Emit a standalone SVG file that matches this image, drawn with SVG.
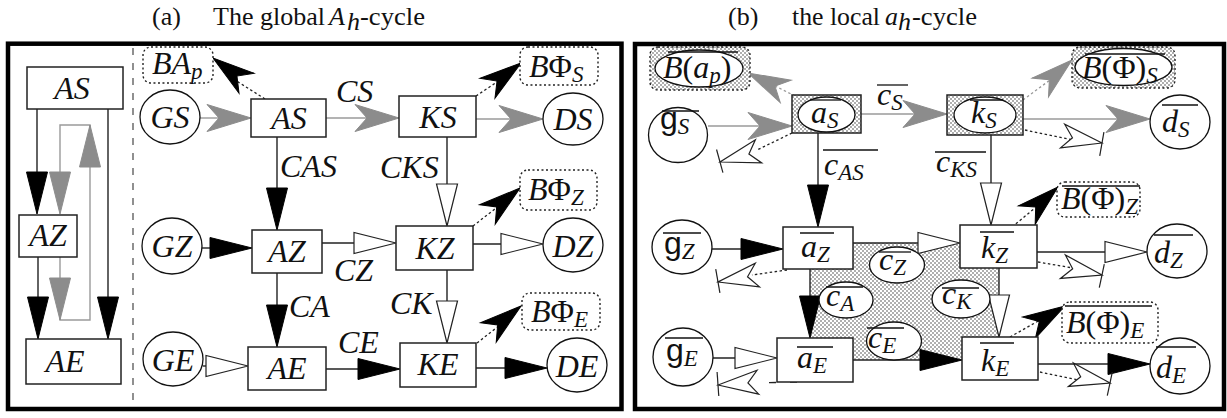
<svg xmlns="http://www.w3.org/2000/svg" width="1227" height="418" viewBox="0 0 1227 418">
<style>
.frame{fill:none;stroke:#000;stroke-width:4.5}
.box{fill:#fff;stroke:#222;stroke-width:1.5}
.circ{fill:#fff;stroke:#111;stroke-width:1.3}
.dotbox{fill:#fff;stroke:#222;stroke-width:1.4;stroke-dasharray:2 2.5}
.shadebox{fill:url(#dots);stroke:#222;stroke-width:1.5}
.shadedot{fill:url(#dots);stroke:#222;stroke-width:1.4;stroke-dasharray:2 2.5}
.ln{fill:none;stroke:#222;stroke-width:1.4}
.gln{fill:none;stroke:#9a9a9a;stroke-width:1.4}
.dln{fill:none;stroke:#222;stroke-width:1.3;stroke-dasharray:2.5 2.5}
.gdln{fill:none;stroke:#999;stroke-width:1.3;stroke-dasharray:2.5 2.5}
.dash{fill:none;stroke:#222;stroke-width:1.3;stroke-dasharray:7 14}
.ahB{fill:#000;stroke:#000;stroke-width:1}
.ahW{fill:#fff;stroke:#222;stroke-width:1.2}
.ahG{fill:#8c8c8c;stroke:#8c8c8c;stroke-width:1}
.t{font-family:"Liberation Serif",serif;font-style:italic;font-size:32px;fill:#111}
.s{font-size:23px}
.up{font-style:normal}
.g{font-family:"Liberation Sans",sans-serif;font-style:normal;font-size:32px}
.title{font-family:"Liberation Serif",serif;font-size:26px;fill:#111}
.ti{font-style:italic}
.ovl{stroke:#111;stroke-width:1.3}
.sep{fill:none;stroke:#555;stroke-width:1.3;stroke-dasharray:7 8}
</style>
<defs>
<pattern id="dots" width="4" height="4" patternUnits="userSpaceOnUse"><rect width="4" height="4" fill="#fff"/><circle cx="1" cy="1" r="0.7" fill="#222"/><circle cx="3" cy="3" r="0.7" fill="#222"/></pattern>
<path id="tri" d="M0,0 L-42,-10.5 L-42,10.5 Z"/>
<path id="barbG" d="M0,0 L-44,-13.5 L-32,0 L-44,13.5 Z"/>
<path id="barb" d="M0,0 L-42,-12.5 L-30,0 L-42,12.5 Z"/>
<g id="wbarb"><path d="M0,0 L-40,-12 L-30,0 L-40,12 Z"/><path d="M0,-11 L0,13" fill="none"/></g>
</defs>
<rect width="1227" height="418" fill="#fff"/>

<g id="titles">
<text class="title" x="152" y="25">(a)</text>
<text class="title" x="213" y="25" textLength="112" lengthAdjust="spacingAndGlyphs">The global</text>
<text class="title ti" x="329" y="25">A</text>
<text class="title ti" x="347" y="30" font-size="18">h</text>
<text class="title" x="360" y="25" textLength="65" lengthAdjust="spacingAndGlyphs">-cycle</text>
<text class="title" x="728" y="25">(b)</text>
<text class="title" x="792" y="25" textLength="88" lengthAdjust="spacingAndGlyphs">the local</text>
<text class="title ti" x="885" y="25">a</text>
<text class="title ti" x="898" y="30" font-size="18">h</text>
<text class="title" x="912" y="25" textLength="65" lengthAdjust="spacingAndGlyphs">-cycle</text>
</g>

<g id="frames">
<rect class="frame" x="8" y="43.7" width="613.5" height="365.3"/>
<rect class="frame" x="635" y="44" width="589" height="365"/>
<line class="sep" x1="133" y1="48" x2="133" y2="404"/>
</g>

<g id="shade-region">
<rect x="810" y="243" width="189" height="117" fill="url(#dots)"/>
</g>

<g id="connectors">
<path class="ln" d="M37,109 V190"/>
<path class="ln" d="M108,109 V320"/>
<path class="gln" d="M60,257 V320 H90 V125 H60 V200"/>
<path class="ln" d="M38,257 V320"/>
<use href="#tri" class="ahB" transform="translate(37,214) rotate(90)"/>
<use href="#tri" class="ahG" transform="translate(60,214) rotate(90)"/>
<use href="#tri" class="ahG" transform="translate(90,125) rotate(-90)"/>
<use href="#tri" class="ahG" transform="translate(60,320) rotate(90)"/>
<use href="#tri" class="ahB" transform="translate(38,339) rotate(90)"/>
<use href="#tri" class="ahB" transform="translate(108,339) rotate(90)"/>
<path class="gln" d="M200,118 H230"/>
<path class="gln" d="M326,118 H380"/>
<path class="gln" d="M476,119 H520"/>
<use href="#barbG" class="ahG" transform="translate(251,118)"/>
<use href="#barbG" class="ahG" transform="translate(399,118)"/>
<use href="#barbG" class="ahG" transform="translate(543,119)"/>
<path class="ln" d="M277,137 V210"/>
<use href="#tri" class="ahB" transform="translate(277,230) rotate(90)"/>
<path class="ln" d="M447,137 V200"/>
<use href="#tri" class="ahW" transform="translate(447,226) rotate(90)"/>
<path class="ln" d="M202,248 H230"/>
<use href="#tri" class="ahB" transform="translate(252,248)"/>
<path class="ln" d="M322,243 H370"/>
<use href="#tri" class="ahW" transform="translate(396,243)"/>
<path class="ln" d="M473,244 H520"/>
<use href="#tri" class="ahW" transform="translate(543,244)"/>
<path class="ln" d="M277,273 V320"/>
<use href="#tri" class="ahB" transform="translate(277,347) rotate(90)"/>
<path class="ln" d="M447,270 V320"/>
<use href="#tri" class="ahW" transform="translate(447,343) rotate(90)"/>
<path class="ln" d="M203,366 H230"/>
<use href="#tri" class="ahW" transform="translate(248,366)"/>
<path class="ln" d="M326,369 H380"/>
<use href="#tri" class="ahB" transform="translate(400,369)"/>
<path class="ln" d="M476,368 H520"/>
<use href="#tri" class="ahB" transform="translate(547,368)"/>
<path class="dln" d="M265,99 L235,80"/>
<use href="#barb" class="ahB" transform="translate(213,58) rotate(-143)"/>
<path class="dln" d="M476,96 L500,80"/>
<use href="#barb" class="ahB" transform="translate(521,63) rotate(-37)"/>
<path class="dln" d="M473,226 L500,205"/>
<use href="#barb" class="ahB" transform="translate(520,188) rotate(-39)"/>
<path class="dln" d="M477,343 L500,325"/>
<use href="#barb" class="ahB" transform="translate(521,306) rotate(-39)"/>
<path class="gln" d="M708,126 H770"/>
<use href="#barbG" class="ahG" transform="translate(792,126)"/>
<path class="gln" d="M861,114 H925"/>
<use href="#barbG" class="ahG" transform="translate(947,114)"/>
<path class="gln" d="M1023,119 H1130"/>
<use href="#barbG" class="ahG" transform="translate(1150,119)"/>
<path class="gdln" d="M795,96 L775,86"/>
<use href="#barb" class="ahG" transform="translate(748,73) rotate(-154)"/>
<path class="gdln" d="M1023,100 L1050,80"/>
<use href="#barb" class="ahG" transform="translate(1072,60) rotate(-41)"/>
<path class="ln" d="M818,133 V200"/>
<use href="#tri" class="ahB" transform="translate(818,227) rotate(90)"/>
<path class="ln" d="M991,135 V200"/>
<use href="#tri" class="ahW" transform="translate(991,225) rotate(90)"/>
<path class="ln" d="M712,249 H760"/>
<use href="#tri" class="ahB" transform="translate(783,249)"/>
<path class="ln" d="M853,243 H930"/>
<use href="#tri" class="ahW" transform="translate(960,243)"/>
<path class="ln" d="M1037,252 H1120"/>
<use href="#tri" class="ahW" transform="translate(1147,252)"/>
<path class="ln" d="M810,269 V310"/>
<use href="#tri" class="ahB" transform="translate(810,338) rotate(90)"/>
<path class="ln" d="M999,268 V310"/>
<use href="#tri" class="ahW" transform="translate(999,337) rotate(90)"/>
<path class="ln" d="M713,358 H750"/>
<use href="#tri" class="ahW" transform="translate(777,358)"/>
<path class="ln" d="M853,360 H940"/>
<use href="#tri" class="ahB" transform="translate(962,360)"/>
<path class="ln" d="M1038,364 H1120"/>
<use href="#tri" class="ahB" transform="translate(1150,364)"/>
<path class="dln" d="M1012,227 L1035,208"/>
<use href="#barb" class="ahB" transform="translate(1058,187) rotate(-42)"/>
<path class="dln" d="M1010,337 L1040,320"/>
<use href="#barb" class="ahB" transform="translate(1065,306) rotate(-31)"/>
<path class="dln" d="M792,133 L757,150"/>
<use href="#wbarb" class="ahW" transform="translate(720,162) rotate(164.6)"/>
<path class="dln" d="M1025,130 L1073,140"/>
<use href="#wbarb" class="ahW" transform="translate(1102,143) rotate(10)"/>
<path class="dln" d="M787,270 L752,275"/>
<use href="#wbarb" class="ahW" transform="translate(718,282) rotate(170)"/>
<path class="dln" d="M1038,262 L1073,268"/>
<use href="#wbarb" class="ahW" transform="translate(1102,275) rotate(12)"/>
<path class="dash" d="M797,382 L755,383"/>
<use href="#wbarb" class="ahW" transform="translate(718,385) rotate(176)"/>
<path class="dln" d="M1040,372 L1078,380"/>
<use href="#wbarb" class="ahW" transform="translate(1110,383) rotate(12)"/>
</g>

<g id="sub-AS"><rect class="box" x="27" y="67" width="96" height="42"/><text class="t" x="72" y="99" text-anchor="middle">AS</text></g>
<g id="sub-AZ"><rect class="box" x="19" y="215" width="58" height="42"/><text class="t" x="48" y="246" text-anchor="middle">AZ</text></g>
<g id="sub-AE"><rect class="box" x="26" y="339" width="95" height="45"/><text class="t" x="65" y="372" text-anchor="middle">AE</text></g>

<g id="BAp"><rect class="dotbox" x="143" y="47" width="70" height="36" rx="8"/><text class="t" x="152" y="74">BA<tspan class="s" dy="5">p</tspan></text></g>
<g id="GS"><ellipse class="circ" cx="170" cy="117" rx="30" ry="27"/><text class="t" x="170" y="128" text-anchor="middle">GS</text></g>
<g id="AS"><rect class="box" x="251" y="99" width="75" height="38"/><text class="t" x="289" y="129" text-anchor="middle">AS</text></g>
<g id="KS"><rect class="box" x="399" y="96" width="77" height="41"/><text class="t" x="438" y="128" text-anchor="middle">KS</text></g>
<g id="DS"><ellipse class="circ" cx="573" cy="119" rx="30" ry="26"/><text class="t" x="573" y="130" text-anchor="middle">DS</text></g>
<g id="BPhiS"><rect class="dotbox" x="520" y="47" width="78" height="38" rx="8"/><text class="t" x="529" y="77">B<tspan class="up">Φ</tspan><tspan class="s" dy="5">S</tspan></text></g>
<g id="GZ"><ellipse class="circ" cx="172" cy="246" rx="30" ry="28"/><text class="t" x="172" y="257" text-anchor="middle">GZ</text></g>
<g id="AZ"><rect class="box" x="252" y="230" width="70" height="43"/><text class="t" x="287" y="262" text-anchor="middle">AZ</text></g>
<g id="KZ"><rect class="box" x="396" y="226" width="77" height="44"/><text class="t" x="435" y="259" text-anchor="middle">KZ</text></g>
<g id="DZ"><ellipse class="circ" cx="573" cy="245" rx="30" ry="27"/><text class="t" x="573" y="257" text-anchor="middle">DZ</text></g>
<g id="BPhiZ"><rect class="dotbox" x="520" y="170" width="77" height="40" rx="8"/><text class="t" x="528" y="200">B<tspan class="up">Φ</tspan><tspan class="s" dy="5">Z</tspan></text></g>
<g id="BPhiE"><rect class="dotbox" x="522" y="293" width="78" height="37" rx="8"/><text class="t" x="531" y="322">B<tspan class="up">Φ</tspan><tspan class="s" dy="5">E</tspan></text></g>
<g id="GE"><ellipse class="circ" cx="173" cy="359" rx="30" ry="27"/><text class="t" x="173" y="371" text-anchor="middle">GE</text></g>
<g id="AE"><rect class="box" x="248" y="347" width="78" height="43"/><text class="t" x="287" y="379" text-anchor="middle">AE</text></g>
<g id="KE"><rect class="box" x="400" y="343" width="76" height="44"/><text class="t" x="438" y="375" text-anchor="middle">KE</text></g>
<g id="DE"><ellipse class="circ" cx="577" cy="365" rx="30" ry="27"/><text class="t" x="577" y="377" text-anchor="middle">DE</text></g>
<g id="labels-a">
<text class="t" x="336" y="102">CS</text>
<text class="t" x="280" y="177">CAS</text>
<text class="t" x="380" y="178">CKS</text>
<text class="t" x="334" y="281">CZ</text>
<text class="t" x="289" y="317">CA</text>
<text class="t" x="390" y="314">CK</text>
<text class="t" x="338" y="353">CE</text>
</g>

<g id="Bap"><rect class="shadedot" x="650" y="47" width="100" height="43" rx="8"/><ellipse class="circ" cx="699" cy="68.5" rx="44" ry="18.5"/><text class="t" x="663" y="78">B<tspan class="up">(</tspan>a<tspan class="s" dy="5">p</tspan><tspan class="up" dy="-5">)</tspan></text><line class="ovl" x1="668" y1="52" x2="738" y2="52"/></g>
<g id="gS"><ellipse class="circ" cx="678" cy="135" rx="29.5" ry="27.5"/><text class="t" x="660" y="129"><tspan class="g">g</tspan><tspan class="s" dy="5">S</tspan></text><line class="ovl" x1="662" y1="111" x2="699" y2="111"/></g>
<g id="aS"><rect class="shadebox" x="792" y="95" width="69" height="38"/><ellipse class="circ" cx="826.5" cy="114.5" rx="28.5" ry="17.5"/><text class="t" x="811" y="123">a<tspan class="s" dy="5">S</tspan></text><line class="ovl" x1="810" y1="100" x2="841" y2="100"/></g>
<g id="kS"><rect class="shadebox" x="947" y="95" width="76" height="40"/><ellipse class="circ" cx="985" cy="115" rx="31" ry="18"/><text class="t" x="971" y="123">k<tspan class="s" dy="5">S</tspan></text><line class="ovl" x1="970" y1="100" x2="1003" y2="100"/></g>
<g id="BPhiS-l"><rect class="shadedot" x="1072" y="47" width="103" height="41" rx="8"/><ellipse class="circ" cx="1123.5" cy="67" rx="48.5" ry="18.5"/><text class="t" x="1082" y="78">B<tspan class="up">(Φ)</tspan><tspan class="s" dy="5">S</tspan></text><line class="ovl" x1="1085" y1="54" x2="1165" y2="54"/></g>
<g id="dS"><ellipse class="circ" cx="1180" cy="122" rx="30" ry="27"/><text class="t" x="1162" y="132">d<tspan class="s" dy="5">S</tspan></text><line class="ovl" x1="1162" y1="105" x2="1198" y2="105"/></g>
<g id="BPhiZ-l"><rect class="dotbox" x="1057" y="182" width="83" height="35" rx="8"/><text class="t" x="1061" y="209">B<tspan class="up">(Φ)</tspan><tspan class="s" dy="5">Z</tspan></text><line class="ovl" x1="1062" y1="186" x2="1140" y2="186"/></g>
<g id="gZ"><ellipse class="circ" cx="682" cy="247" rx="30" ry="27"/><text class="t" x="664" y="254"><tspan class="g">g</tspan><tspan class="s" dy="5">Z</tspan></text><line class="ovl" x1="663" y1="233" x2="701" y2="233"/></g>
<g id="aZ"><rect class="box" x="783" y="227" width="70" height="42"/><text class="t" x="801" y="257">a<tspan class="s" dy="5">Z</tspan></text><line class="ovl" x1="800" y1="233" x2="834" y2="233"/></g>
<g id="kZ"><rect class="box" x="960" y="225" width="77" height="43"/><text class="t" x="981" y="258">k<tspan class="s" dy="5">Z</tspan></text><line class="ovl" x1="980" y1="232" x2="1014" y2="232"/></g>
<g id="dZ"><ellipse class="circ" cx="1177" cy="251" rx="30" ry="27"/><text class="t" x="1154" y="263">d<tspan class="s" dy="5">Z</tspan></text><line class="ovl" x1="1154" y1="235" x2="1193" y2="235"/></g>
<g id="cZ"><ellipse class="circ" cx="897" cy="265" rx="27.5" ry="18"/><text class="t" x="879" y="270">c<tspan class="s" dy="5">Z</tspan></text><line class="ovl" x1="879" y1="252" x2="911" y2="252"/></g>
<g id="cA"><ellipse class="circ" cx="846" cy="300" rx="27" ry="18"/><text class="t" x="826" y="306">c<tspan class="s" dy="5">A</tspan></text><line class="ovl" x1="826" y1="287" x2="863" y2="287"/></g>
<g id="cK"><ellipse class="circ" cx="961" cy="299" rx="29" ry="19"/><text class="t" x="942" y="304">c<tspan class="s" dy="5">K</tspan></text><line class="ovl" x1="942" y1="288" x2="979" y2="288"/></g>
<g id="cE"><ellipse class="circ" cx="894" cy="341" rx="27.5" ry="19"/><text class="t" x="868" y="348">c<tspan class="s" dy="5">E</tspan></text><line class="ovl" x1="867" y1="328" x2="904" y2="328"/></g>
<g id="BPhiE-l"><rect class="dotbox" x="1062" y="302" width="96" height="41" rx="8"/><text class="t" x="1066" y="333">B<tspan class="up">(Φ)</tspan><tspan class="s" dy="5">E</tspan></text><line class="ovl" x1="1065" y1="306" x2="1152" y2="306"/></g>
<g id="gE"><ellipse class="circ" cx="683" cy="357" rx="30" ry="29"/><text class="t" x="666" y="361"><tspan class="g">g</tspan><tspan class="s" dy="5">E</tspan></text><line class="ovl" x1="665" y1="338" x2="703" y2="338"/></g>
<g id="aE"><rect class="box" x="777" y="338" width="76" height="44"/><text class="t" x="797" y="368">a<tspan class="s" dy="5">E</tspan></text><line class="ovl" x1="797" y1="347" x2="833" y2="347"/></g>
<g id="kE"><rect class="box" x="962" y="337" width="76" height="43"/><text class="t" x="981" y="371">k<tspan class="s" dy="5">E</tspan></text><line class="ovl" x1="980" y1="343" x2="1014" y2="343"/></g>
<g id="dE"><ellipse class="circ" cx="1180" cy="366" rx="30" ry="28"/><text class="t" x="1156" y="378">d<tspan class="s" dy="5">E</tspan></text><line class="ovl" x1="1156" y1="347" x2="1196" y2="347"/></g>
<g id="labels-b">
<text class="t" x="877" y="105">c<tspan class="s" dy="5">S</tspan></text><line class="ovl" x1="877" y1="85" x2="908" y2="85"/>
<text class="t" x="824" y="175">c<tspan class="s" dy="5">AS</tspan></text><line class="ovl" x1="823" y1="150" x2="878" y2="150"/>
<text class="t" x="936" y="172">c<tspan class="s" dy="5">KS</tspan></text><line class="ovl" x1="935" y1="152" x2="986" y2="152"/>
</g>
</svg>
